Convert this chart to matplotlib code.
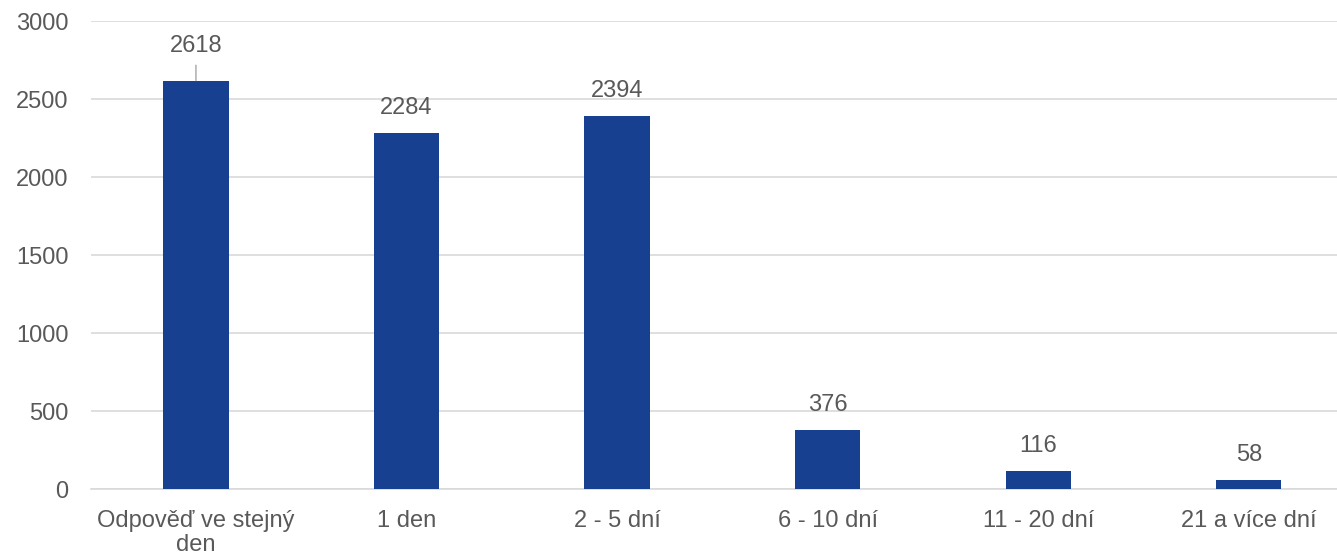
import matplotlib.pyplot as plt

categories = ["Odpověď ve stejný\nden", "1 den", "2 - 5 dní", "6 - 10 dní", "11 - 20 dní", "21 a více dní"]
values = [2618, 2284, 2394, 376, 116, 58]
y_ticks = [0, 500, 1000, 1500, 2000, 2500, 3000]

BAR_COLOR = "#174091"
TEXT_COLOR = "#595959"
GRID_COLOR = "#D9D9D9"
FS = 17

plt.rcParams["font.family"] = ["Liberation Sans", "DejaVu Sans"]

fig = plt.figure(figsize=(13.37, 5.56), dpi=100)
ax = fig.add_axes([0.0678, 0.1205, 0.945, 0.8417])

x = list(range(len(categories)))
ax.bar(x, values, width=0.31, color=BAR_COLOR, zorder=3)

for i, v in enumerate(values):
    if i == 0:
        ax.annotate(str(v), xy=(i, v), xytext=(0, 25), textcoords="offset points",
                    ha="center", va="center", fontsize=FS, color=TEXT_COLOR,
                    arrowprops=dict(arrowstyle="-", color="#A6A6A6", lw=1,
                                    shrinkA=4, shrinkB=0))
    else:
        ax.annotate(str(v), xy=(i, v), xytext=(0, 18), textcoords="offset points",
                    ha="center", va="center", fontsize=FS, color=TEXT_COLOR)

ax.set_xlim(-0.5, len(categories) - 0.5)
ax.set_ylim(0, 3000)
ax.set_yticks(y_ticks)
ax.set_xticks(x)
ax.set_xticklabels(categories, fontsize=FS, color=TEXT_COLOR, linespacing=1.1)
ax.tick_params(axis="y", labelsize=FS, labelcolor=TEXT_COLOR, length=0, pad=16)
ax.tick_params(axis="x", length=0, pad=15)

ax.grid(axis="y", color=GRID_COLOR, lw=1.2, zorder=0)
for side in ["top", "right", "left"]:
    ax.spines[side].set_visible(False)
ax.spines["bottom"].set_color(GRID_COLOR)
ax.spines["bottom"].set_linewidth(1.2)

fig.savefig("out.png", dpi=100)
